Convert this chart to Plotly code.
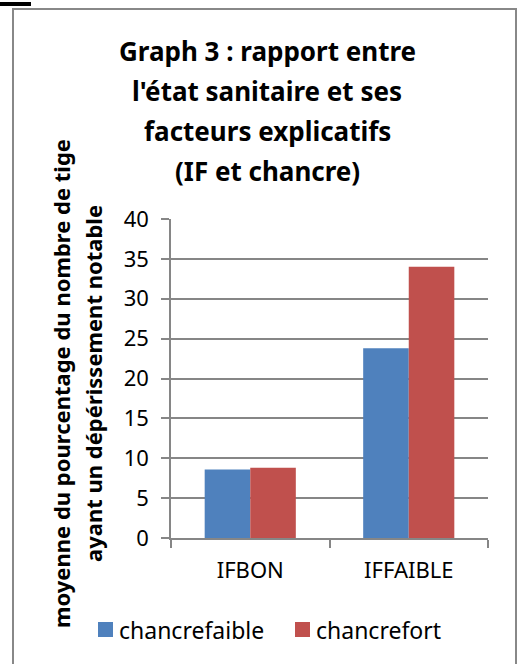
import plotly.graph_objects as go

categories = ["IFBON", "IFFAIBLE"]
chancrefaible = [8.6, 23.8]
chancrefort = [8.8, 34.0]
series_names = ["chancrefaible", "chancrefort"]
series_colors = ["#4F81BD", "#C0504D"]
title_lines = ["Graph 3 : rapport entre", "l'état sanitaire et ses", "facteurs explicatifs", "(IF et chancre)"]
ytitle_lines = ["moyenne du pourcentage du nombre de tige", "ayant un dépérissement notable"]

W, H = 523, 664
L, R, T, B = 171, 488, 219, 538  # plot area in pixels

def px_x(p):
    return (p - L) / (R - L)

def px_y(p):
    return (B - p) / (B - T)

FONT = "Noto Sans"
fig = go.Figure()
fig.add_trace(go.Bar(x=categories, y=chancrefaible, name=series_names[0],
                     marker=dict(color=series_colors[0], line=dict(width=0))))
fig.add_trace(go.Bar(x=categories, y=chancrefort, name=series_names[1],
                     marker=dict(color=series_colors[1], line=dict(width=0))))

fig.update_layout(
    width=W, height=H,
    margin=dict(l=L, r=W - R, t=T, b=H - B, pad=0, autoexpand=False),
    paper_bgcolor="white", plot_bgcolor="white",
    barmode="group", bargap=0.425, bargroupgap=0,
    font=dict(family=FONT, color="#000000"),
    showlegend=False,
    xaxis=dict(showline=True, linecolor="#868686", linewidth=1.5,
               ticks="outside", ticklen=8, tickcolor="#868686", tickwidth=1.5,
               tickson="boundaries", tickfont=dict(size=22, family=FONT),
               ticklabelstandoff=12, showgrid=False),
    yaxis=dict(range=[0, 40], dtick=5, showline=True, linecolor="#868686", linewidth=1.5,
               ticks="outside", ticklen=8, tickcolor="#868686", tickwidth=1.5,
               gridcolor="#868686", gridwidth=1.5, zeroline=False,
               ticklabelstandoff=8, tickfont=dict(size=22, family=FONT)),
)

title_y = [51, 91, 131, 171]
for line, yy in zip(title_lines, title_y):
    fig.add_annotation(text="<b>" + line + "</b>", xref="paper", yref="paper",
                       x=px_x(267), y=px_y(yy), xanchor="center", yanchor="middle",
                       showarrow=False, font=dict(size=26, family=FONT, color="#000000"))

ytitle_x = [61, 93]
for line, xx in zip(ytitle_lines, ytitle_x):
    fig.add_annotation(text="<b>" + line + "</b>", xref="paper", yref="paper",
                       x=px_x(xx), y=px_y(384), xanchor="center", yanchor="middle",
                       textangle=-90, showarrow=False,
                       font=dict(size=22, family=FONT, color="#000000"))

# legend (drawn as squares + labels)
legend_sq_x = [98, 295]
for name, color, sx in zip(series_names, series_colors, legend_sq_x):
    fig.add_shape(type="rect", xref="paper", yref="paper",
                  x0=px_x(sx), x1=px_x(sx + 15), y0=px_y(637), y1=px_y(622),
                  line=dict(width=0), fillcolor=color)
    fig.add_annotation(text=name, xref="paper", yref="paper",
                       x=px_x(sx + 19), y=px_y(629.5), xanchor="left", yanchor="middle",
                       showarrow=False, font=dict(size=23, family=FONT, color="#000000"))

# outer chart frame and stray top-left bar
fig.add_shape(type="rect", xref="paper", yref="paper",
              x0=px_x(13), x1=px_x(516), y0=px_y(670), y1=px_y(9),
              line=dict(color="#888888", width=2), fillcolor="rgba(0,0,0,0)", layer="below")
fig.add_shape(type="rect", xref="paper", yref="paper",
              x0=px_x(0), x1=px_x(31), y0=px_y(6), y1=px_y(2),
              line=dict(width=0), fillcolor="#000000")

fig.write_html("out.html", config={"displayModeBar": False},
               post_script="document.body.style.margin='0';document.body.style.overflow='hidden';")
